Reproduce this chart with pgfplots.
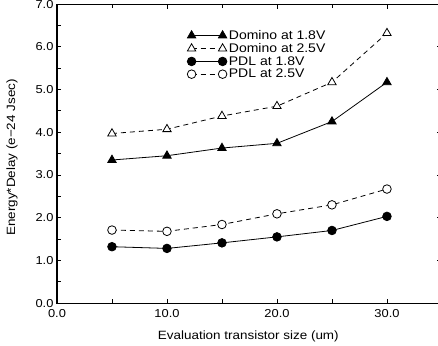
\documentclass[border=0pt]{standalone}
\usepackage{fontspec}
\setmainfont{Liberation Sans}[FakeStretch=1.12]
\usepackage{pgfplots}
\pgfplotsset{compat=1.18}
\begin{document}
\begin{tikzpicture}
\begin{axis}[
  scale only axis, width=385pt, height=299pt,
  xmin=0, xmax=35, ymin=0, ymax=7,
  xtick={0,10,20,30}, minor xtick={5,15,25},
  ytick={0,1,...,7}, minor ytick={0.5,1.5,...,6.5},
  tick align=inside, major tick length=4.5pt, minor tick length=4pt,
  tick style={black, line width=0.8pt},
  axis line style={line width=1.1pt},
  /pgf/number format/assume math mode=true,
  /pgf/number format/.cd, fixed, fixed zerofill, precision=1, /pgfplots/.cd,
  ticklabel style={font=\fontsize{11.5}{12}\selectfont},
  xticklabel style={yshift=-2.5pt},
  xlabel={Evaluation transistor size (um)},
  ylabel={Energy*Delay (e\textminus24 Jsec)},
  label style={font=\fontsize{12}{13}\selectfont},
  xlabel style={at={(axis description cs:0.497,-0.11)}, anchor=center},
  ylabel style={at={(axis description cs:-0.117,0.487)}, anchor=center},
  legend style={at={(axis description cs:0.338,0.92)}, anchor=north west, draw=none, fill=none,
    font=\fontsize{12.5}{13}\selectfont, row sep=-1.5pt, inner sep=0pt},
  legend cell align=left,
  legend image code/.code={\draw[#1] plot coordinates {(0pt,0pt) (31pt,0pt)};},
  every axis plot/.append style={black, line width=0.8pt},
  clip=false,
]
\addplot[solid, mark=triangle*, mark size=4.8pt, mark options={solid, fill=black}] coordinates {
(5,3.35) (10,3.45) (15,3.63) (20,3.74) (25,4.25) (30,5.17)};
\addlegendentry{Domino at 1.8V}
\addplot[dash pattern=on 5pt off 4pt, mark=triangle*, mark size=4.8pt, mark options={solid, fill=white}] coordinates {
(5,3.97) (10,4.07) (15,4.38) (20,4.61) (25,5.17) (30,6.32)};
\addlegendentry{Domino at 2.5V}
\addplot[solid, mark=*, mark size=4.3pt, mark options={solid, fill=black}] coordinates {
(5,1.32) (10,1.28) (15,1.41) (20,1.55) (25,1.70) (30,2.03)};
\addlegendentry{PDL at 1.8V}
\addplot[dash pattern=on 5pt off 4pt, mark=*, mark size=4.3pt, mark options={solid, fill=white}] coordinates {
(5,1.71) (10,1.68) (15,1.84) (20,2.09) (25,2.30) (30,2.67)};
\addlegendentry{PDL at 2.5V}
\coordinate (bl) at (axis cs:-5.18,-0.984);
\coordinate (tr) at (axis cs:34.64,7.096);
\end{axis}
\pgfresetboundingbox
\path[use as bounding box] (bl) rectangle (tr);
\end{tikzpicture}
\end{document}
